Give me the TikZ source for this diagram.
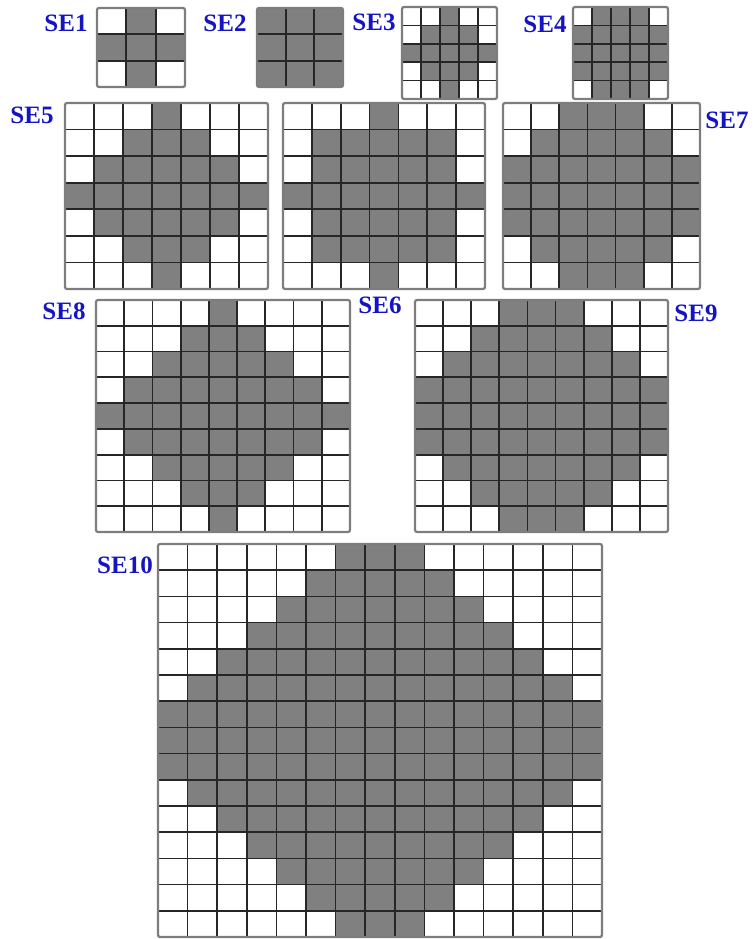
\documentclass[tikz,border=0pt]{standalone}
\usepackage{fontspec}
\setmainfont{Liberation Serif}
\definecolor{labelblue}{RGB}{20,20,195}
\definecolor{cellgray}{RGB}{128,128,128}
\definecolor{linegray}{RGB}{38,38,38}
\definecolor{framegray}{RGB}{125,125,125}

% 结构元素网格: 左上(x0,y0) 右下(x1,y1) 格数 n 半径 r 形状(0 菱形, 1 方块加十字)
\newcommand{\segrid}[7]{%
  \pgfmathsetmacro{\cw}{(#3-#1)/#5}
  \pgfmathsetmacro{\ch}{(#4-#2)/#5}
  \pgfmathtruncatemacro{\nn}{#5-1}
  \pgfmathtruncatemacro{\cc}{(#5-1)/2}
  \foreach \i in {0,...,\nn}{
    \foreach \j in {0,...,\nn}{
      \pgfmathtruncatemacro{\di}{abs(\i-\cc)}
      \pgfmathtruncatemacro{\dj}{abs(\j-\cc)}
      \ifnum#7=0
        \pgfmathtruncatemacro{\ison}{(\di+\dj<=#6)}
      \else
        \pgfmathtruncatemacro{\ison}{or(max(\di,\dj)<=#6, min(\di,\dj)==0)}
      \fi
      \ifnum\ison=1
        \fill[cellgray] ({#1+\i*\cw},{#2+\j*\ch}) rectangle ++(\cw,\ch);
      \fi
    }
  }
  \foreach \k in {1,...,\nn}{
    \draw[gridline] ({#1+\k*\cw},#2) -- ({#1+\k*\cw},#4);
    \draw[gridline] (#1,{#2+\k*\ch}) -- (#3,{#2+\k*\ch});
  }
  \draw[frame] (#1,#2) rectangle (#3,#4);
}

\begin{document}
\begin{tikzpicture}[x=1pt, y=-1pt,
    gridline/.style={linegray, line width=1.7pt},
    frame/.style={framegray, line width=2.2pt, rounded corners=2pt},
    selab/.style={font=\fontsize{25}{25}\selectfont\bfseries, text=labelblue, inner sep=0pt}]
  \useasboundingbox (0,0) rectangle (753,939);

  % 第一行: 3x3 与 5x5
  \segrid{97}{8}{185}{87}{3}{1}{0}
  \segrid{257}{8}{343}{87}{3}{2}{0}
  \segrid{402}{7}{497}{99}{5}{2}{0}
  \segrid{573}{7}{668}{99}{5}{3}{0}
  \node[selab] (se1) at (66,23) {SE1};
  \node[selab] (se2) at (225,23) {SE2};
  \node[selab] (se3) at (374,22) {SE3};
  \node[selab] (se4) at (545,24) {SE4};

  % 第二行: 7x7
  \segrid{65}{103}{268}{289}{7}{3}{0}
  \segrid{283}{103}{485}{289}{7}{2}{1}
  \segrid{503}{103}{700}{289}{7}{4}{0}
  \node[selab] (se5) at (32,115) {SE5};
  \node[selab] (se6) at (380,305) {SE6};
  \node[selab] (se7) at (727,120) {SE7};

  % 第三行: 9x9
  \segrid{96}{300}{350}{532}{9}{4}{0}
  \segrid{415}{300}{668}{532}{9}{5}{0}
  \node[selab] (se8) at (64,311) {SE8};
  \node[selab] (se9) at (696,313) {SE9};

  % 最大的 15x15
  \segrid{158}{544}{602}{937}{15}{8}{0}
  \node[selab] (se10) at (125,565) {SE10};
\end{tikzpicture}
\end{document}
